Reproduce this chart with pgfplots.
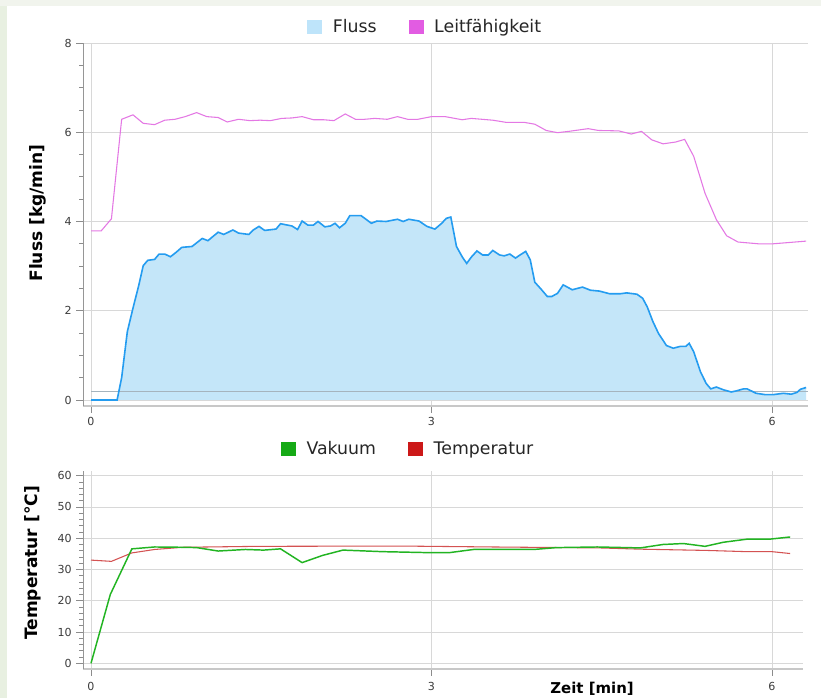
\documentclass[border=0pt]{standalone}
\usepackage{fontspec}
\setmainfont{DejaVu Sans}
\usepackage{pgfplots}
\pgfplotsset{compat=1.18}
\definecolor{flussline}{RGB}{36,156,240}
\definecolor{flussfill}{RGB}{196,230,249}
\definecolor{flussleg}{RGB}{190,228,250}
\definecolor{leitline}{RGB}{228,120,228}
\definecolor{leitleg}{RGB}{226,92,226}
\definecolor{vakline}{RGB}{34,180,34}
\definecolor{vakleg}{RGB}{22,170,22}
\definecolor{templine}{RGB}{212,82,82}
\definecolor{templeg}{RGB}{204,24,24}
\definecolor{gridc}{RGB}{216,216,216}
\definecolor{refline}{RGB}{165,180,190}
\definecolor{axisx}{RGB}{200,200,200}
\definecolor{axisy}{RGB}{150,150,150}
\definecolor{tickc}{RGB}{140,140,140}
\definecolor{tickt}{RGB}{60,60,60}
\definecolor{stripL}{RGB}{232,240,225}
\definecolor{stripT}{RGB}{241,244,237}
\pgfplotsset{
  common/.style={
    scale only axis, anchor=south west, clip=false,
    axis lines=left, axis line style={-},
    x axis line style={draw=axisx, line width=1.5pt},
    y axis line style={draw=axisy, line width=0.7pt},
    xtick={0,3,6},
    tick align=outside, major tick length=5pt, minor tick length=3pt,
    tick style={color=tickc, line width=0.6pt},
    xmajorgrids, ymajorgrids, grid style={color=gridc, line width=0.6pt},
    ticklabel style={font=\fontsize{8.3}{10}\selectfont, text=tickt},
    /pgf/number format/assume math mode=true,
    legend style={draw=none, fill=none, legend columns=2,
      font=\fontsize{13}{15}\selectfont, text=black!85,
      /tikz/every even column/.append style={column sep=22pt}},
  },
  sq/.style={legend image code/.code={\fill[#1] (0pt,-4.9pt) rectangle (10.5pt,4.9pt); \path[draw=none,fill=none] (0pt,0pt) rectangle (17pt,0.1pt);}},
}
\begin{document}
\begin{tikzpicture}
\useasboundingbox (0,0) rectangle (615.75pt,523.5pt);
\fill[white] (0,0) rectangle (615.75pt,523.5pt);
\fill[stripL] (0,0) rectangle (5.25pt,523.5pt);
\fill[stripT] (0,519pt) rectangle (615.75pt,523.5pt);

\begin{axis}[common,
  at={(62.25pt,219pt)}, width=543.75pt, height=272.25pt,
  xmin=-0.0705, xmax=6.317, ymin=-0.1345, ymax=8,
  ytick={0,2,4,6,8}, minor y tick num=3,
  xticklabel style={yshift=0pt},
  every axis y label/.style={at={(rel axis cs:0,0.5)}, xshift=-33.75pt, yshift=8.6pt, rotate=90, anchor=center, font=\bfseries\fontsize{12.8}{15}\selectfont},
  ylabel={Fluss [kg/min]},
  legend style={at={(rel axis cs:0.4724,1.0441)}, anchor=center},
]
\addlegendimage{sq=flussleg}
\addlegendentry{Fluss}
\addlegendimage{sq=leitleg}
\addlegendentry{Leitfähigkeit}
\addplot[draw=none, fill=flussfill, forget plot] coordinates {
(0,0) (0.23,0) (0.27,0.5) (0.32,1.53) (0.37,2.06) (0.42,2.56) (0.46,3.01) (0.50,3.13) (0.56,3.15) (0.60,3.27) (0.65,3.27) (0.70,3.21) (0.75,3.31) (0.80,3.42) (0.89,3.44) (0.98,3.62) (1.03,3.57) (1.12,3.76) (1.17,3.71) (1.25,3.81) (1.30,3.74) (1.39,3.71) (1.43,3.81) (1.48,3.89) (1.53,3.80) (1.63,3.83) (1.67,3.95) (1.77,3.90) (1.82,3.82) (1.86,4.01) (1.91,3.92) (1.96,3.92) (2.00,4.00) (2.06,3.88) (2.11,3.90) (2.15,3.96) (2.19,3.86) (2.24,3.96) (2.28,4.13) (2.38,4.13) (2.47,3.96) (2.52,4.01) (2.60,4.00) (2.70,4.05) (2.75,4.00) (2.80,4.05) (2.89,4.01) (2.96,3.89) (3.03,3.83) (3.09,3.96) (3.13,4.07) (3.17,4.10) (3.22,3.44) (3.27,3.21) (3.31,3.06) (3.35,3.20) (3.40,3.34) (3.45,3.25) (3.50,3.25) (3.54,3.35) (3.60,3.25) (3.64,3.23) (3.69,3.27) (3.74,3.18) (3.78,3.25) (3.83,3.33) (3.87,3.14) (3.91,2.64) (3.97,2.47) (4.02,2.32) (4.06,2.32) (4.11,2.39) (4.16,2.58) (4.24,2.47) (4.33,2.53) (4.40,2.46) (4.48,2.44) (4.57,2.38) (4.66,2.38) (4.72,2.40) (4.81,2.37) (4.86,2.28) (4.90,2.09) (4.95,1.76) (5.00,1.49) (5.07,1.22) (5.13,1.16) (5.19,1.20) (5.24,1.20) (5.27,1.27) (5.31,1.08) (5.37,0.63) (5.42,0.37) (5.46,0.25) (5.51,0.29) (5.57,0.23) (5.64,0.18) (5.68,0.20) (5.75,0.25) (5.78,0.25) (5.86,0.15) (5.94,0.12) (6.01,0.12) (6.10,0.15) (6.17,0.13) (6.22,0.17) (6.25,0.24) (6.30,0.28) (6.30,0)
} -- cycle;
\addplot[color=refline, line width=0.6pt, forget plot] coordinates {(0,0.2) (6.317,0.2)};
\addplot[color=flussline, line width=1.2pt, forget plot] coordinates {
(0,0) (0.23,0) (0.27,0.5) (0.32,1.53) (0.37,2.06) (0.42,2.56) (0.46,3.01) (0.50,3.13) (0.56,3.15) (0.60,3.27) (0.65,3.27) (0.70,3.21) (0.75,3.31) (0.80,3.42) (0.89,3.44) (0.98,3.62) (1.03,3.57) (1.12,3.76) (1.17,3.71) (1.25,3.81) (1.30,3.74) (1.39,3.71) (1.43,3.81) (1.48,3.89) (1.53,3.80) (1.63,3.83) (1.67,3.95) (1.77,3.90) (1.82,3.82) (1.86,4.01) (1.91,3.92) (1.96,3.92) (2.00,4.00) (2.06,3.88) (2.11,3.90) (2.15,3.96) (2.19,3.86) (2.24,3.96) (2.28,4.13) (2.38,4.13) (2.47,3.96) (2.52,4.01) (2.60,4.00) (2.70,4.05) (2.75,4.00) (2.80,4.05) (2.89,4.01) (2.96,3.89) (3.03,3.83) (3.09,3.96) (3.13,4.07) (3.17,4.10) (3.22,3.44) (3.27,3.21) (3.31,3.06) (3.35,3.20) (3.40,3.34) (3.45,3.25) (3.50,3.25) (3.54,3.35) (3.60,3.25) (3.64,3.23) (3.69,3.27) (3.74,3.18) (3.78,3.25) (3.83,3.33) (3.87,3.14) (3.91,2.64) (3.97,2.47) (4.02,2.32) (4.06,2.32) (4.11,2.39) (4.16,2.58) (4.24,2.47) (4.33,2.53) (4.40,2.46) (4.48,2.44) (4.57,2.38) (4.66,2.38) (4.72,2.40) (4.81,2.37) (4.86,2.28) (4.90,2.09) (4.95,1.76) (5.00,1.49) (5.07,1.22) (5.13,1.16) (5.19,1.20) (5.24,1.20) (5.27,1.27) (5.31,1.08) (5.37,0.63) (5.42,0.37) (5.46,0.25) (5.51,0.29) (5.57,0.23) (5.64,0.18) (5.68,0.20) (5.75,0.25) (5.78,0.25) (5.86,0.15) (5.94,0.12) (6.01,0.12) (6.10,0.15) (6.17,0.13) (6.22,0.17) (6.25,0.24) (6.30,0.28)
};
\addplot[color=leitline, line width=0.8pt, forget plot] coordinates {
(0,3.79) (0.09,3.79) (0.18,4.06) (0.27,6.29) (0.37,6.39) (0.46,6.20) (0.56,6.17) (0.65,6.27) (0.74,6.29) (0.83,6.35) (0.93,6.44) (1.02,6.35) (1.12,6.33) (1.20,6.23) (1.30,6.29) (1.40,6.26) (1.49,6.27) (1.58,6.26) (1.68,6.31) (1.77,6.32) (1.86,6.35) (1.96,6.28) (2.05,6.28) (2.14,6.26) (2.24,6.41) (2.33,6.29) (2.41,6.29) (2.50,6.31) (2.61,6.29) (2.70,6.35) (2.79,6.29) (2.88,6.29) (3.00,6.35) (3.12,6.35) (3.27,6.28) (3.35,6.31) (3.54,6.27) (3.66,6.22) (3.82,6.22) (3.91,6.18) (4.01,6.04) (4.11,5.99) (4.21,6.02) (4.38,6.08) (4.47,6.04) (4.65,6.03) (4.76,5.96) (4.85,6.02) (4.94,5.83) (5.04,5.74) (5.15,5.78) (5.23,5.84) (5.31,5.46) (5.41,4.63) (5.51,4.04) (5.60,3.68) (5.70,3.54) (5.88,3.50) (6.01,3.50) (6.30,3.56)
};
\end{axis}

\begin{axis}[common,
  at={(62.25pt,21.75pt)}, width=540pt, height=148.5pt,
  xmin=-0.0705, xmax=6.273, ymin=-1.82, ymax=61.5,
  ytick={0,10,20,30,40,50,60}, minor y tick num=4,
  xticklabel style={yshift=-1.5pt},
  every axis y label/.style={at={(rel axis cs:0,0.5)}, xshift=-37.5pt, yshift=5.25pt, rotate=90, anchor=center, font=\bfseries\fontsize{12.8}{15}\selectfont},
  ylabel={Temperatur [°C]},
  every axis x label/.style={at={(rel axis cs:0.707,0)}, yshift=-15pt, anchor=center, font=\bfseries\fontsize{11.2}{13}\selectfont},
  xlabel={Zeit [min]},
  legend style={at={(rel axis cs:0.452,1.111)}, anchor=center},
]
\addlegendimage{sq=vakleg}
\addlegendentry{Vakuum}
\addlegendimage{sq=templeg}
\addlegendentry{Temperatur}
\addplot[color=templine, line width=0.8pt, forget plot] coordinates {
(0,33.0) (0.18,32.6) (0.36,35.3) (0.56,36.4) (0.81,37.1) (1.46,37.4) (2.72,37.5) (3.54,37.2) (4.48,36.9) (4.84,36.5) (5.42,36.1) (5.78,35.7) (6.00,35.7) (6.16,35.1)
};
\addplot[color=vakline, line width=1.1pt, forget plot] coordinates {
(0,0) (0.17,22.0) (0.36,36.6) (0.56,37.2) (0.81,37.1) (0.93,37.0) (1.12,35.9) (1.36,36.4) (1.52,36.2) (1.67,36.6) (1.86,32.2) (2.04,34.5) (2.22,36.2) (2.57,35.7) (2.96,35.4) (3.16,35.4) (3.37,36.4) (3.90,36.4) (4.10,37.0) (4.46,37.2) (4.84,36.9) (5.04,38.0) (5.22,38.3) (5.41,37.4) (5.57,38.7) (5.78,39.7) (5.98,39.7) (6.16,40.4)
};
\end{axis}
\end{tikzpicture}
\end{document}
